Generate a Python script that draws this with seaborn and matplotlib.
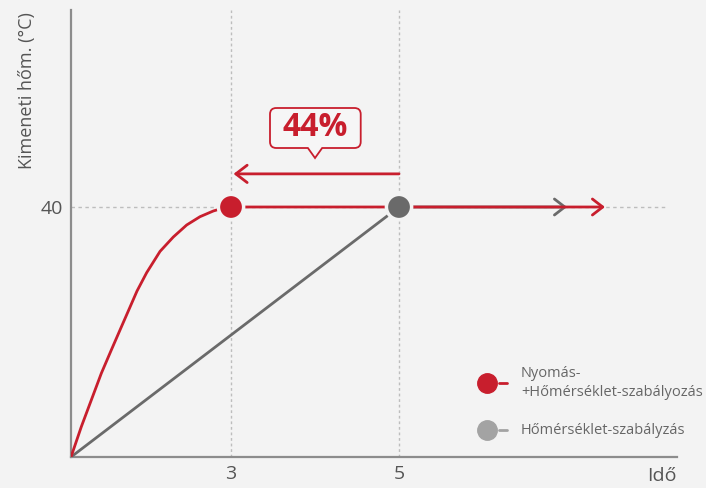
import numpy as np
import pandas as pd
import matplotlib
matplotlib.use("Agg")
import matplotlib.pyplot as plt
from matplotlib.path import Path
from matplotlib.patches import PathPatch
import seaborn as sns

# ---------------- data (schematic time axis; positions in axis units) ----------------
tick_pos = [1.905, 3.905]
tick_labels = ["3", "5"]
y_ticks = [40]
y_tick_labels = ["40"]

# pressure + temperature control curve
red_x = [0, 0.123, 0.242, 0.361, 0.480, 0.599, 0.690, 0.786, 0.901, 1.060,
         1.218, 1.377, 1.536, 1.694, 1.774, 1.905]
red_y = [0, 4.85, 9.12, 13.39, 17.12, 20.8, 23.6, 26.56, 29.5, 32.9,
         35.2, 37.12, 38.45, 39.36, 39.68, 40.0]
# temperature-only control
gray_x = [0, 3.905]
gray_y = [0, 40.0]

target_temp = 40.0
red_arrow_end = 6.357
gray_arrow_end = 5.905
arrow_y = 45.3
callout_text = "44%"
ylabel = "Kimeneti hőm. (°C)"
xlabel = "Idő"
legend_labels = ["Nyomás-\n+Hőmérséklet-szabályozás", "Hőmérséklet-szabályzás"]

RED = "#c81e2d"
GRAY = "#6a6a6a"
LGRAY = "#a3a3a3"
BG = "#f3f3f3"
TXT = "#555555"

sns.set_theme(style="white")
plt.rcParams["font.family"] = ["Open Sans", "DejaVu Sans"]

fig = plt.figure(figsize=(7.06, 4.88), dpi=100, facecolor=BG)
ax = fig.add_axes([71 / 706, 31 / 488, 606 / 706, 447 / 488])
ax.set_facecolor(BG)
ax.set_xlim(0, 606 / 84)
ax.set_ylim(0, 447 * 0.16)

# grid guides
for xp in tick_pos:
    ax.axvline(xp, color="#bdbdbd", lw=1, ls=(0, (2, 2)), zorder=1)
ax.hlines(target_temp, 0, 7.07, color="#bdbdbd", lw=1, ls=(0, (2.5, 2.5)), zorder=1)

# lines
df_red = pd.DataFrame({"x": red_x, "y": red_y})
df_gray = pd.DataFrame({"x": gray_x, "y": gray_y})
sns.lineplot(data=df_gray, x="x", y="y", color=GRAY, lw=2, ax=ax, zorder=3, sort=False)
sns.lineplot(data=df_red, x="x", y="y", color=RED, lw=2, ax=ax, zorder=3, sort=False,
             solid_joinstyle="round", solid_capstyle="round")

head = "->,head_length=0.62,head_width=0.48"
# horizontal arrows at target temperature
ax.annotate("", xy=(gray_arrow_end, target_temp), xytext=(gray_x[-1], target_temp),
            arrowprops=dict(arrowstyle=head, lw=2, color=GRAY, shrinkA=0, shrinkB=0),
            zorder=3)
ax.annotate("", xy=(red_arrow_end, target_temp), xytext=(red_x[-1], target_temp),
            arrowprops=dict(arrowstyle=head, lw=2, color=RED, shrinkA=0, shrinkB=0),
            zorder=4)
# time-saving arrow
ax.annotate("", xy=(red_x[-1] + 0.03, arrow_y), xytext=(gray_x[-1], arrow_y),
            arrowprops=dict(arrowstyle="->,head_length=0.68,head_width=0.52", lw=2,
                            color=RED, shrinkA=0, shrinkB=0), zorder=4)

# markers
pts = pd.DataFrame({"x": [red_x[-1], gray_x[-1]], "y": [red_y[-1], gray_y[-1]],
                    "s": ["a", "b"]})
sns.scatterplot(data=pts, x="x", y="y", hue="s", palette=[RED, GRAY], s=330,
                edgecolor=BG, linewidth=2.5, ax=ax, zorder=5, legend=False)

# callout box
x0, x1, y0, y1 = 2.369, 3.449, 49.44, 55.84
px, py, pw = 2.905, 47.84, 0.085
rx, ry = 0.075, 1.0
verts = [
    (x0 + rx, y1), (x1 - rx, y1), (x1, y1), (x1, y1 - ry),
    (x1, y0 + ry), (x1, y0), (x1 - rx, y0),
    (px + pw, y0), (px, py), (px - pw, y0),
    (x0 + rx, y0), (x0, y0), (x0, y0 + ry),
    (x0, y1 - ry), (x0, y1), (x0 + rx, y1),
]
codes = [Path.MOVETO, Path.LINETO, Path.CURVE3, Path.CURVE3,
         Path.LINETO, Path.CURVE3, Path.CURVE3,
         Path.LINETO, Path.LINETO, Path.LINETO,
         Path.LINETO, Path.CURVE3, Path.CURVE3,
         Path.LINETO, Path.CURVE3, Path.CURVE3]
ax.add_patch(PathPatch(Path(verts, codes), facecolor="#f6f6f6", edgecolor=RED,
                       lw=1.3, zorder=4))
ax.text((x0 + x1) / 2, (y0 + y1) / 2 + 0.1, callout_text, color=RED, fontsize=23,
        fontweight="bold", ha="center", va="center", zorder=5)

# axes styling
for s in ["top", "right"]:
    ax.spines[s].set_visible(False)
for s in ["left", "bottom"]:
    ax.spines[s].set_color("#8c8c8c")
    ax.spines[s].set_linewidth(1.6)
ax.set_xticks(tick_pos)
ax.set_xticklabels(tick_labels)
ax.set_yticks(y_ticks)
ax.set_yticklabels(y_tick_labels)
ax.tick_params(axis="both", length=0, labelsize=14, colors=TXT)
ax.tick_params(axis="x", pad=6)
ax.tick_params(axis="y", pad=6)
ax.set_xlabel("")
ax.set_ylabel("")

fig.text(27 / 706, 1 - 91 / 488, ylabel, rotation=90, ha="center", va="center",
         fontsize=13, color=TXT)
fig.text(677 / 706, 1 - 476 / 488, xlabel, ha="right", va="center",
         fontsize=14, color=TXT)

# legend (drawn manually)
for (yy, col, lab) in [(0.1655, RED, legend_labels[0]), (0.0604, LGRAY, legend_labels[1])]:
    ax.plot([0.686], [yy], marker="o", ms=14, color=col, mec=col,
            transform=ax.transAxes, clip_on=False, zorder=6)
    ax.plot([0.706, 0.719], [yy, yy], color=col, lw=2,
            transform=ax.transAxes, clip_on=False, zorder=6)
    ax.text(0.7426, yy, lab, transform=ax.transAxes, ha="left", va="center",
            fontsize=10.5, color="#666666", linespacing=1.35)

fig.savefig("out.png", dpi=100, facecolor=BG)
